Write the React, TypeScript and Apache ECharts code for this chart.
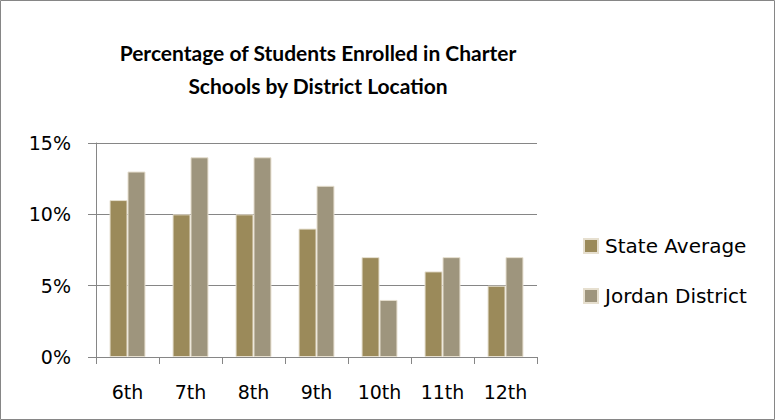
import React, { useEffect, useRef } from "react";
import * as echarts from "echarts";

const grades = ["6th", "7th", "8th", "9th", "10th", "11th", "12th"];
const stateAverage = [11, 10, 10, 9, 7, 6, 5];
const jordanDistrict = [13, 14, 14, 12, 4, 7, 7];
const titleLines = ["Percentage of Students Enrolled in Charter", "Schools by District Location"];

export default function App() {
  const ref = useRef<HTMLDivElement>(null);
  useEffect(() => {
    if (!ref.current) return;
    const chart = echarts.init(ref.current, null, { renderer: "svg" });
    const font = "'DejaVu Sans', sans-serif";
    const titleFont = "Lato, 'Open Sans', sans-serif";
    chart.setOption({
      animation: false,
      backgroundColor: "#ffffff",
      textStyle: { fontFamily: font },
      title: {
        text: titleLines.join("\n"),
        left: 313,
        textAlign: "center",
        top: 31,
        textStyle: { fontFamily: titleFont, fontSize: 21, fontWeight: "bold", color: "#000", lineHeight: 33 },
      },
      graphic: [
        {
          type: "rect",
          shape: { x: 0.5, y: 0.5, width: 774, height: 419 },
          style: { fill: "none", stroke: "#868686", lineWidth: 1 },
          silent: true,
        },
      ],
      legend: {
        orient: "vertical",
        left: 578,
        top: 231,
        itemWidth: 14,
        itemHeight: 14,
        itemGap: 30,
        icon: "rect",
        textStyle: { fontFamily: font, fontSize: 20, color: "#000", padding: [0, 0, 0, 2] },
        data: ["State Average", "Jordan District"],
      },
      grid: { left: 96, right: 238, top: 143, bottom: 63, containLabel: false },
      xAxis: {
        type: "category",
        data: grades,
        axisLine: { show: true, lineStyle: { color: "#868686", width: 1 } },
        axisTick: { show: true, length: 7, lineStyle: { color: "#868686" } },
        axisLabel: { fontFamily: font, fontSize: 19, color: "#000", margin: 25 },
      },
      yAxis: {
        type: "value",
        min: 0,
        max: 15,
        interval: 5,
        axisLine: { show: true, lineStyle: { color: "#868686", width: 1 } },
        axisTick: { show: true, length: 8, lineStyle: { color: "#868686" } },
        axisLabel: { fontFamily: font, fontSize: 19, color: "#000", margin: 25, formatter: "{value}%" },
        splitLine: { show: true, lineStyle: { color: "#868686", width: 1 } },
      },
      series: [
        {
          name: "State Average",
          type: "bar",
          data: stateAverage,
          barGap: "0%",
          barCategoryGap: "43%",
          itemStyle: { color: "#9b8a5a", borderColor: "#e6dfcf", borderWidth: 1 },
        },
        {
          name: "Jordan District",
          type: "bar",
          data: jordanDistrict,
          barGap: "0%",
          barCategoryGap: "43%",
          itemStyle: { color: "#9e957d", borderColor: "#e6dfcf", borderWidth: 1 },
        },
      ],
    });
    return () => chart.dispose();
  }, []);
  return <div ref={ref} style={{ position: "fixed", left: 0, top: 0, width: 775, height: 420 }} />;
}
